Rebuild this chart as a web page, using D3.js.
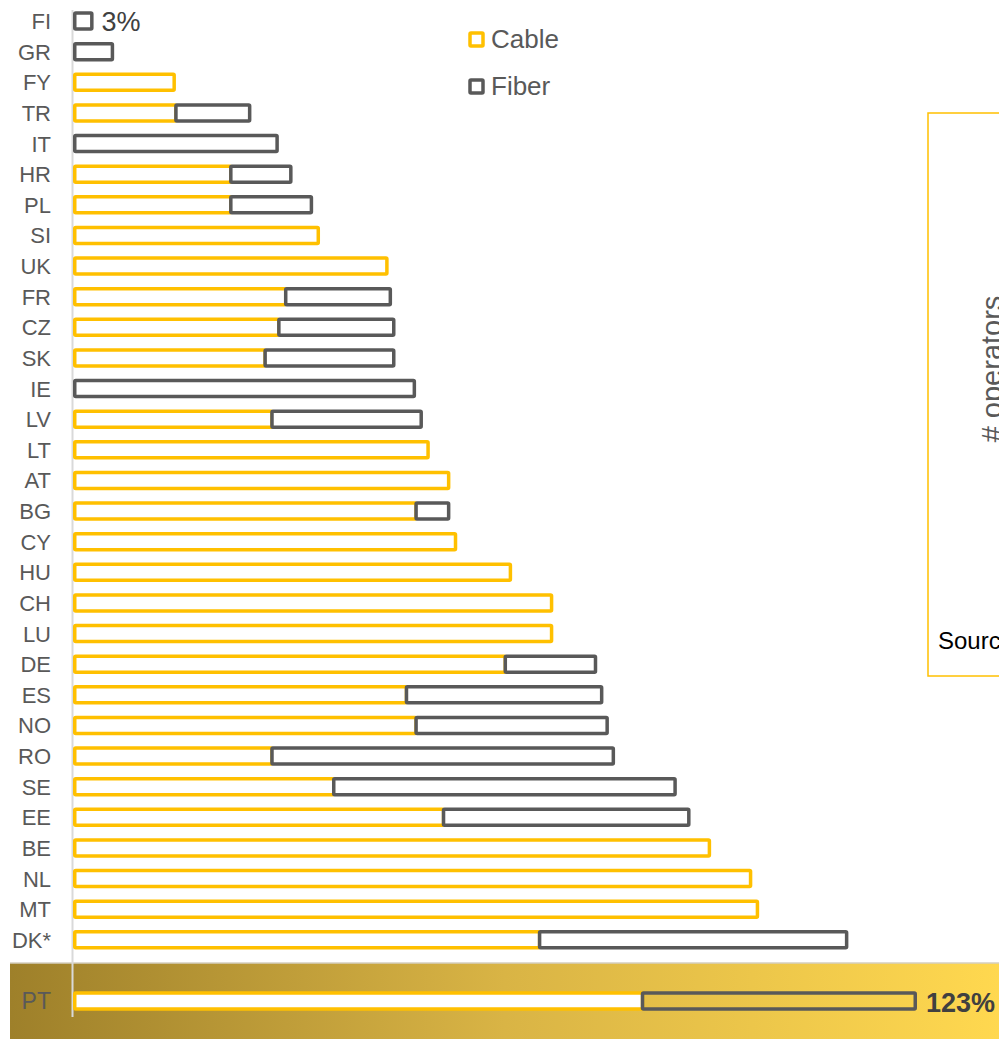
<!DOCTYPE html>
<html>
<head>
<meta charset="utf-8">
<script src="https://cdn.jsdelivr.net/npm/d3@7/dist/d3.min.js"></script>
<style>
  html, body { margin: 0; padding: 0; background: #fff; }
  svg { display: block; font-family: "Liberation Sans", Arial, sans-serif; }
</style>
</head>
<body>
<svg id="chart" width="999" height="1039"></svg>
<script>
// ---- data (percent) ----
const categories = ["FI","GR","FY","TR","IT","HR","PL","SI","UK","FR","CZ","SK","IE","LV","LT","AT","BG","CY","HU","CH","LU","DE","ES","NO","RO","SE","EE","BE","NL","MT","DK*"];
const cable = [0,0,15,15,0,23,23,36,46,31,30,28,0,29,52,55,50,56,64,70,70,63,48.6,50,29,38,54,93,99,100,68];
const fiber = [3,6,0,11,30,9,12,0,0,15.5,17,19,50,22,0,0,5,0,0,0,0,13.4,28.7,28.1,50,50,36,0,0,0,45];
const highlightCategory = "PT";
const highlightCable = 83;
const highlightFiber = 40;
const seriesNames = ["Cable", "Fiber"];
const firstLabel = "3%";
const lastLabel = "123%";

const svg = d3.select("#chart");
const W = 999, H = 1039;
const CABLE = "#ffc000", FIBER = "#595959", TXT = "#595959";
const sw = 3.5, barH = 16;

const x = d3.scaleLinear().domain([0, 123]).range([73, 917]);
const y = d3.scaleLinear().domain([0, 32]).range([21, 1001]);

// gradient for highlight band
const defs = svg.append("defs");
const grad = defs.append("linearGradient").attr("id", "band").attr("x1", "0").attr("x2", "1").attr("y1", "0").attr("y2", "0");
grad.append("stop").attr("offset", "0%").attr("stop-color", "#9e802a");
grad.append("stop").attr("offset", "50%").attr("stop-color", "#d9b445");
grad.append("stop").attr("offset", "100%").attr("stop-color", "#ffd84f");

const ptY = y(32);
svg.append("rect").attr("x", 10).attr("y", ptY - 38).attr("width", W - 10).attr("height", 80)
  .attr("fill", "url(#band)");
svg.append("line").attr("x1", 10).attr("x2", W).attr("y1", ptY - 38).attr("y2", ptY - 38)
  .attr("stroke", "#d4cfc0").attr("stroke-width", 1.5);

// axis line
svg.append("line").attr("x1", 72.5).attr("x2", 72.5).attr("y1", y(0) - 11).attr("y2", ptY + 16)
  .attr("stroke", "#d9d9d9").attr("stroke-width", 2);

// right box (extends beyond the right page edge, as in the reference)
svg.append("rect").attr("x", 928).attr("y", 113).attr("width", 100).attr("height", 563)
  .attr("fill", "none").attr("stroke", CABLE).attr("stroke-width", 1.5);
svg.append("text").attr("transform", "translate(1002,369) rotate(-90)")
  .attr("text-anchor", "middle").attr("font-size", 29).attr("fill", TXT).text("# operators");
svg.append("text").attr("x", 938).attr("y", 649).attr("font-size", 24).attr("fill", "#000").text("Source:");

// rows
const rows = categories.map((c, i) => ({ c, i, cable: cable[i], fiber: fiber[i] }));
rows.push({ c: highlightCategory, i: 32, cable: highlightCable, fiber: highlightFiber, hl: true });

const g = svg.append("g");
// labels
g.selectAll("text.cat").data(rows).join("text").attr("class", "cat")
  .attr("x", 51).attr("y", d => y(d.i) + 8)
  .attr("text-anchor", "end").attr("font-size", d => d.hl ? 23 : 22).attr("fill", TXT)
  .text(d => d.c);

// cable bars
g.selectAll("rect.cable").data(rows.filter(d => d.cable > 0)).join("rect").attr("class", "cable")
  .attr("x", x(0) + sw / 2)
  .attr("y", d => y(d.i) - barH / 2)
  .attr("width", d => d.fiber > 0 ? x(d.cable) - x(0) - sw / 2 : x(d.cable) - x(0) - sw)
  .attr("height", barH)
  .attr("rx", 1).attr("fill", "#fff").attr("stroke", CABLE).attr("stroke-width", sw);

// fiber bars
g.selectAll("rect.fiber").data(rows.filter(d => d.fiber > 0)).join("rect").attr("class", "fiber")
  .attr("x", d => d.cable > 0 ? x(d.cable) : x(0) + sw / 2)
  .attr("y", d => y(d.i) - barH / 2)
  .attr("width", d => d.cable > 0 ? x(d.cable + d.fiber) - x(d.cable) - sw / 2 : x(d.fiber) - x(0) - sw)
  .attr("height", barH)
  .attr("rx", 1).attr("fill", d => d.hl ? "none" : "#fff").attr("stroke", FIBER).attr("stroke-width", sw);

// value labels
const first = rows[0];
g.append("text").attr("x", x(first.cable + first.fiber) + 8).attr("y", y(first.i) + 10)
  .attr("font-size", 27).attr("fill", "#404040").text(firstLabel);
const last = rows[rows.length - 1];
g.append("text").attr("x", x(last.cable + last.fiber) + 9).attr("y", y(last.i) + 10.5)
  .attr("font-size", 27).attr("font-weight", "bold").attr("fill", "#404040").text(lastLabel);

// legend
const leg = svg.append("g");
seriesNames.forEach((s, k) => {
  const cy = 39 + k * 47;
  leg.append("rect").attr("x", 470).attr("y", cy - 6).attr("width", 13).attr("height", 13)
    .attr("fill", "#fff").attr("stroke", k === 0 ? CABLE : FIBER).attr("stroke-width", sw).attr("rx", 1);
  leg.append("text").attr("x", 491).attr("y", cy + 8.5).attr("font-size", 26).attr("fill", TXT).text(s);
});
</script>
</body>
</html>
